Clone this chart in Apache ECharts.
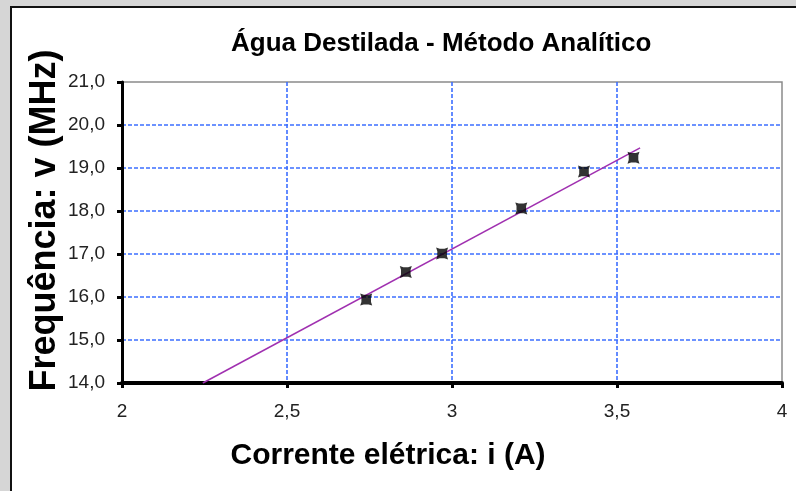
<!DOCTYPE html>
<html>
<head>
<meta charset="utf-8">
<script src="https://cdn.jsdelivr.net/npm/echarts@6/dist/echarts.min.js"></script>
<style>
  html, body { margin: 0; padding: 0; background: #d6d6d6; }
  #chart { width: 796px; height: 491px; }
</style>
</head>
<body>
<div id="chart"></div>
<script>
// Data
const chartTitle = 'Água Destilada - Método Analítico';
const xAxisTitle = 'Corrente elétrica: i (A)';
const yAxisTitle = 'Frequência: v (MHz)';
const xTicks = [2, 2.5, 3, 3.5, 4];
const yTicks = [14, 15, 16, 17, 18, 19, 20, 21];
const current = [2.74, 2.86, 2.97, 3.21, 3.40, 3.55];
const frequency = [15.94, 16.58, 17.01, 18.06, 18.92, 19.24];
const trendX = [2.245, 3.57];
const trendY = [14.0, 19.47];

const font = "'Liberation Sans', Arial, sans-serif";

const points = current.map((x, i) => [x, frequency[i]]);
const trend = trendX.map((x, i) => [x, trendY[i]]);

const chart = echarts.init(document.getElementById('chart'), null, { renderer: 'canvas' });
chart.setOption({
  backgroundColor: '#d6d6d6',
  animation: false,
  graphic: [{
    type: 'rect',
    z: -100,
    silent: true,
    shape: { x: 11, y: 7, width: 820, height: 520 },
    style: { fill: '#ffffff', stroke: '#111111', lineWidth: 2 }
  }],
  title: {
    text: chartTitle,
    left: 226,
    top: 26,
    textStyle: { fontFamily: font, fontWeight: 'bold', fontSize: 26, color: '#000' }
  },
  grid: {
    left: 122, right: 14, top: 82, bottom: 108,
    show: true, backgroundColor: '#ffffff', borderColor: '#8a8a8a', borderWidth: 1.5
  },
  xAxis: {
    type: 'value',
    min: xTicks[0], max: xTicks[xTicks.length - 1], interval: xTicks[1] - xTicks[0],
    name: xAxisTitle,
    nameLocation: 'middle',
    nameGap: 58,
    nameMoveOverlap: false,
    nameTextStyle: { fontFamily: font, fontWeight: 'bold', fontSize: 30, color: '#000', padding: [0, 128, 0, 0] },
    axisLine: { show: true, onZero: false, lineStyle: { color: '#000', width: 4 } },
    axisTick: { show: true, inside: false, length: 5, lineStyle: { color: '#000', width: 3 } },
    axisLabel: {
      fontFamily: font, fontSize: 19, color: '#222', margin: 19,
      formatter: v => String(v).replace('.', ',')
    },
    splitLine: {
      show: true, showMinLine: false, showMaxLine: false,
      lineStyle: { color: '#3d6fff', width: 1.6, type: [4, 2] }
    }
  },
  yAxis: {
    type: 'value',
    min: yTicks[0], max: yTicks[yTicks.length - 1], interval: yTicks[1] - yTicks[0],
    name: yAxisTitle,
    nameLocation: 'middle',
    nameGap: 59,
    nameRotate: 90,
    nameMoveOverlap: false,
    nameTextStyle: { fontFamily: font, fontWeight: 'bold', fontSize: 36, color: '#000', padding: [0, 0, 0, 24] },
    axisLine: { show: true, onZero: false, lineStyle: { color: '#000', width: 3 } },
    axisTick: { show: true, inside: false, length: 5, lineStyle: { color: '#000', width: 3 } },
    axisLabel: {
      fontFamily: font, fontSize: 19, color: '#222', margin: 17,
      formatter: v => v.toFixed(1).replace('.', ',')
    },
    splitLine: {
      show: true, showMinLine: false, showMaxLine: false,
      lineStyle: { color: '#3d6fff', width: 1.6, type: [4, 2] }
    }
  },
  series: [
    {
      type: 'line',
      data: trend,
      showSymbol: false,
      symbol: 'none',
      lineStyle: { color: '#a030b0', width: 1.5 },
      z: 2
    },
    {
      type: 'scatter',
      data: points,
      symbol: 'path://M0,0 L3,1 L7,1 L10,0 L9,3 L9,7 L10,10 L7,9 L3,9 L0,10 L1,7 L1,3 Z',
      symbolSize: 12,
      itemStyle: { color: '#000' },
      z: 3
    }
  ]
});
</script>
</body>
</html>
